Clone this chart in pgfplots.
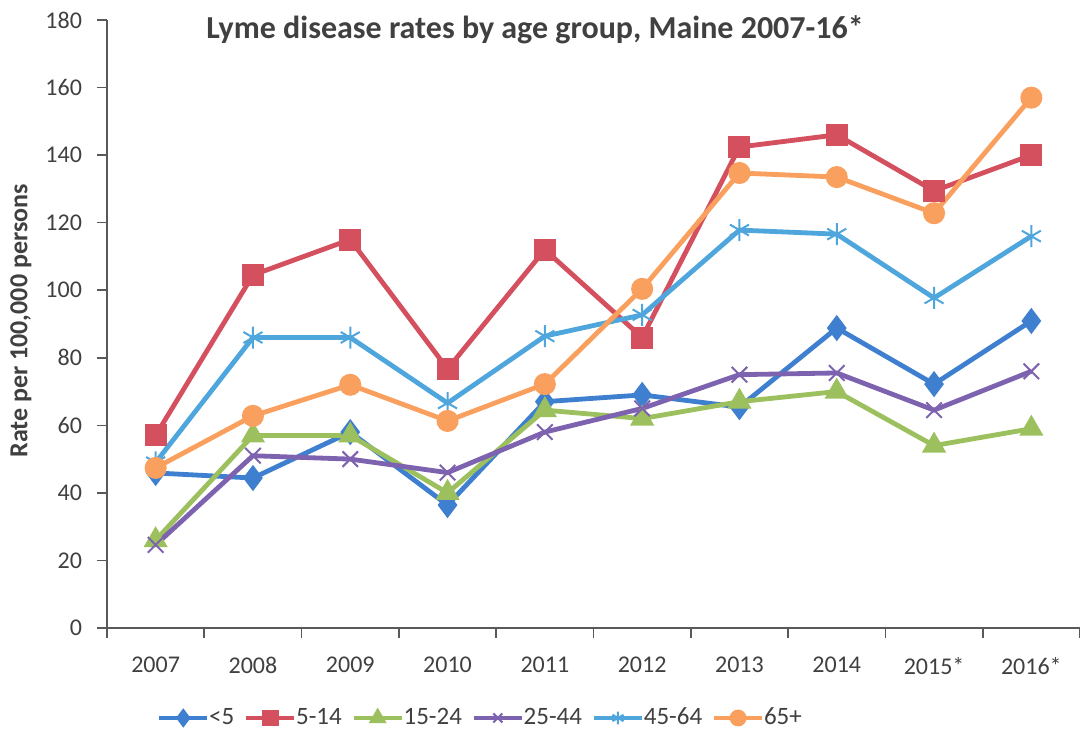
\documentclass[border=0pt]{standalone}
\usepackage{pgfplots}
\pgfplotsset{compat=1.18}
\usepackage{fontspec}
\setmainfont{Carlito}

\definecolor{cA}{HTML}{3F7FD0}
\definecolor{cB}{HTML}{D4505E}
\definecolor{cC}{HTML}{9CC05E}
\definecolor{cD}{HTML}{7D62B0}
\definecolor{cE}{HTML}{4EA6DC}
\definecolor{cF}{HTML}{F9A05E}
\definecolor{txt}{HTML}{404040}

\begin{document}
\begin{tikzpicture}[x=1pt,y=1pt]
\begin{axis}[
    at={(0,0)}, anchor=south west,
    scale only axis,
    width=486.5pt, height=304pt,
    xmin=-0.5, xmax=9.5,
    ymin=0, ymax=180,
    axis x line*=bottom,
    axis y line*=left,
    axis line style={draw=black!65, line width=0.8pt, -},
    xtick={0,...,9},
    xticklabels={2007,2008,2009,2010,2011,2012,2013,2014,2015*,2016*},
    minor xtick={-0.5,0.5,...,9.5},
    ytick={0,20,...,180},
    major x tick style={draw=none},
    minor tick length=5pt,
    major tick length=5pt,
    tick align=outside,
    tick style={draw=black!65, line width=0.8pt},
    tick label style={font=\fontsize{12}{14}\selectfont, text=txt},
    /pgf/number format/assume math mode=true,
    xticklabel style={yshift=-6pt},
    yticklabel style={xshift=-4pt},
    ylabel={Rate per 100,000 persons},
    ylabel style={font=\bfseries\fontsize{13}{15}\selectfont, text=txt,
        at={(axis description cs:-0.0884,0.505)}, anchor=center},
    clip=false,
    legend columns=-1,
    legend style={at={(rel axis cs:0.385,-0.148)}, anchor=center, draw=none,
        font=\fontsize{12.5}{14}\selectfont, text=txt,
        /tikz/every even column/.append style={column sep=3pt},
        /tikz/every odd column/.append style={column sep=-2pt}},
    legend image code/.code={
        \draw[#1, line width=2pt, mark size=3.2pt, mark repeat=2, mark phase=2] plot coordinates {(0cm,0cm) (0.42cm,0cm) (0.84cm,0cm)};
    },
    every axis plot/.append style={line width=2.4pt, mark size=4.3pt, mark options={solid}},
]
\addplot[cA, mark=diamond*, mark size=4.6pt] coordinates {(0,45.9) (1,44.4) (2,58) (3,36.4) (4,67) (5,69) (6,65.4) (7,88.8) (8,72.2) (9,90.9)};
\addlegendentry{<5}
\addplot[cB, mark=square*] coordinates {(0,57) (1,104.5) (2,115) (3,76.7) (4,112) (5,86) (6,142.4) (7,146) (8,129.4) (9,140)};
\addlegendentry{5-14}
\addplot[cC, mark=triangle*, mark size=4.6pt] coordinates {(0,26) (1,57) (2,57) (3,40) (4,64.5) (5,62) (6,67) (7,70) (8,54) (9,59)};
\addlegendentry{15-24}
\addplot[cD, mark=x, mark size=5.5pt, mark options={line width=1pt}] coordinates {(0,24.6) (1,51) (2,50) (3,46) (4,58) (5,65) (6,75) (7,75.5) (8,64.5) (9,76)};
\addlegendentry{25-44}
\addplot[cE, mark=asterisk, mark size=5.5pt, mark options={line width=1pt}] coordinates {(0,49) (1,86) (2,86) (3,66.6) (4,86.4) (5,92.7) (6,117.8) (7,116.6) (8,97.7) (9,116)};
\addlegendentry{45-64}
\addplot[cF, mark=*] coordinates {(0,47.4) (1,62.8) (2,72) (3,61.3) (4,72.2) (5,100.4) (6,134.7) (7,133.5) (8,122.8) (9,157)};
\addlegendentry{65+}
\node[anchor=center, font=\bfseries\fontsize{16}{19}\selectfont, text=txt] at (rel axis cs:0.44,0.9836) {Lyme disease rates by age group, Maine 2007-16*};
\end{axis}
\pgfresetboundingbox
\path (-53.5pt,-52pt) rectangle (486.5pt,314pt);
\end{tikzpicture}
\end{document}
